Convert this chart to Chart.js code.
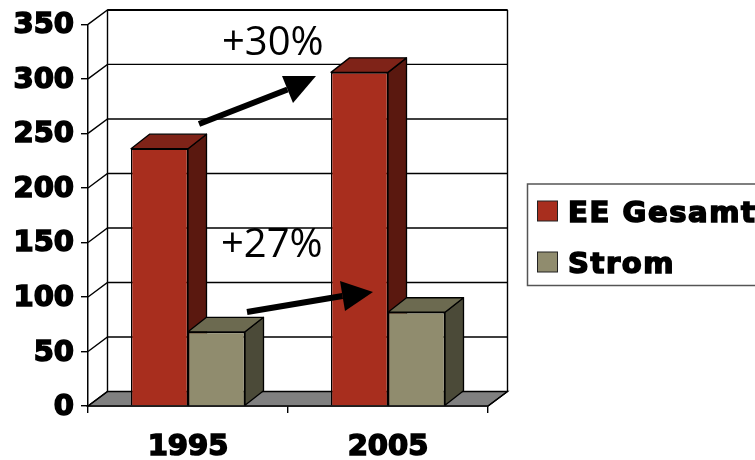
<!DOCTYPE html>
<html lang="de">
<head>
<meta charset="UTF-8">
<title>EE Gesamt und Strom</title>
<script src="https://cdn.jsdelivr.net/npm/chart.js"></script>
<style>
  html, body { margin: 0; padding: 0; background: #fff; overflow: hidden; }
  canvas { display: block; }
</style>
</head>
<body>
<canvas id="chart" width="755" height="460"></canvas>
<script>
// Daten
const years = ['1995', '2005'];
const eeGesamt = [236, 306];
const strom = [68, 86];
const yTicks = [0, 50, 100, 150, 200, 250, 300, 350];

const BOLD = 'bold 29px "DejaVu Sans"';
const THIN = '40px "Open Sans"';

// Tiefe der Rueckwand und der Balken
const wallDx = 19.5, wallDy = -14.5;
const barDx = 18.5, barDy = -14.5;

const colors = [
  { front: '#A82E1E', top: '#7F2318', side: '#5A180F' },
  { front: '#908C6E', top: '#6C6A50', side: '#4B4A38' }
];

function poly(ctx, pts, fill) {
  ctx.beginPath();
  pts.forEach((p, i) => i ? ctx.lineTo(p[0], p[1]) : ctx.moveTo(p[0], p[1]));
  ctx.closePath();
  if (fill) { ctx.fillStyle = fill; ctx.fill(); }
  ctx.stroke();
}

// Rueckwand, Boden und Gitterlinien
const wallPlugin = {
  id: 'wall',
  beforeDatasetsDraw(chart) {
    const { ctx, chartArea: a, scales: { y } } = chart;
    ctx.save();
    ctx.strokeStyle = '#000';
    ctx.lineWidth = 1.4;
    const zero = y.getPixelForValue(0);
    poly(ctx, [[a.left, zero], [a.right, zero], [a.right + wallDx, zero + wallDy], [a.left + wallDx, zero + wallDy]], '#808080');
    yTicks.forEach(v => {
      const py = y.getPixelForValue(v);
      ctx.beginPath();
      ctx.moveTo(a.left, py);
      ctx.lineTo(a.left + wallDx, py + wallDy);
      if (v > 0) ctx.lineTo(a.right + wallDx, py + wallDy);
      ctx.stroke();
    });
    const top = y.getPixelForValue(350) + wallDy;
    ctx.beginPath();
    ctx.moveTo(a.left + wallDx, top);
    ctx.lineTo(a.left + wallDx, zero + wallDy);
    ctx.moveTo(a.right + wallDx, top);
    ctx.lineTo(a.right + wallDx, zero + wallDy);
    ctx.lineTo(a.right, zero);
    ctx.stroke();
    ctx.lineWidth = 2;
    ctx.beginPath();
    ctx.moveTo(a.left + wallDx, top);
    ctx.lineTo(a.right + wallDx, top);
    ctx.stroke();
    ctx.restore();
  }
};

// Seiten- und Deckflaeche der Balken
function drawFaces(chart, meta, c) {
  const { ctx } = chart;
  ctx.save();
  ctx.strokeStyle = '#000';
  ctx.lineWidth = 1.3;
  ctx.lineJoin = 'round';
  meta.data.forEach(bar => {
    const l = bar.x - bar.width / 2, r = bar.x + bar.width / 2;
    poly(ctx, [[r, bar.y], [r + barDx, bar.y + barDy], [r + barDx, bar.base + barDy], [r, bar.base]], c.side);
    poly(ctx, [[l, bar.y], [l + barDx, bar.y + barDy], [r + barDx, bar.y + barDy], [r, bar.y]], c.top);
  });
  ctx.restore();
}

// Chart.js zeichnet den ersten Datensatz zuletzt, Strom muss aber vor EE Gesamt liegen
const depthPlugin = {
  id: 'depth',
  beforeDatasetDraw(chart, args) {
    if (args.index === 1) return false;
    drawFaces(chart, args.meta, colors[0]);
  },
  afterDatasetDraw(chart, args) {
    if (args.index !== 0) return;
    const meta = chart.getDatasetMeta(1);
    drawFaces(chart, meta, colors[1]);
    meta.data.forEach(bar => bar.draw(chart.ctx));
  }
};

function arrow(ctx, tail, tip, headA, headB, width) {
  ctx.save();
  ctx.strokeStyle = '#000';
  ctx.fillStyle = '#000';
  ctx.lineWidth = width;
  ctx.beginPath();
  ctx.moveTo(tail[0], tail[1]);
  ctx.lineTo((headA[0] + headB[0]) / 2, (headA[1] + headB[1]) / 2);
  ctx.stroke();
  ctx.beginPath();
  ctx.moveTo(tip[0], tip[1]);
  ctx.lineTo(headA[0], headA[1]);
  ctx.lineTo(headB[0], headB[1]);
  ctx.closePath();
  ctx.fill();
  ctx.restore();
}

// Pfeile, Prozentangaben und Legende
const notesPlugin = {
  id: 'notes',
  afterDatasetsDraw(chart) {
    const { ctx } = chart;
    arrow(ctx, [199, 124], [316, 76], [282, 76], [293, 103], 6);
    arrow(ctx, [247, 312], [373, 292], [340, 281], [345, 311], 6);
    ctx.save();
    ctx.fillStyle = '#000';
    ctx.font = THIN;
    ctx.textBaseline = 'alphabetic';
    ctx.fillText('+30%', 222, 55);
    ctx.fillText('+27%', 221, 257);

    // Legende
    ctx.fillStyle = '#fff';
    ctx.strokeStyle = '#555';
    ctx.lineWidth = 1.5;
    ctx.fillRect(527.5, 184, 240, 101.5);
    ctx.strokeRect(527.5, 184, 240, 101.5);
    chart.data.datasets.forEach((ds, i) => {
      const top = 201 + i * 51;
      ctx.fillStyle = ds.backgroundColor;
      ctx.strokeStyle = '#222';
      ctx.lineWidth = 1;
      ctx.fillRect(537.5, top, 20, 20);
      ctx.strokeRect(537.5, top, 20, 20);
      ctx.fillStyle = '#000';
      ctx.strokeStyle = '#000';
      ctx.font = BOLD;
      ctx.letterSpacing = '1.6px';
      ctx.lineWidth = 1.6;
      ctx.fillText(ds.label, 568, top + 21);
      ctx.strokeText(ds.label, 568, top + 21);
    });
    ctx.restore();
  }
};

new Chart(document.getElementById('chart'), {
  type: 'bar',
  data: {
    labels: years,
    datasets: [
      { label: 'EE Gesamt', data: eeGesamt, backgroundColor: colors[0].front },
      { label: 'Strom', data: strom, backgroundColor: colors[1].front }
    ]
  },
  options: {
    responsive: false,
    animation: false,
    layout: { padding: { top: 22, right: 267, bottom: 0, left: 0 } },
    datasets: {
      bar: {
        categoryPercentage: 0.57,
        barPercentage: 1,
        borderColor: '#000',
        borderWidth: 1.3
      }
    },
    plugins: { legend: { display: false }, tooltip: { enabled: false } },
    scales: {
      x: {
        afterFit(scale) { scale.height = 54; },
        border: { color: '#000', width: 1.5 },
        grid: { offset: true, drawOnChartArea: false, tickLength: 7, color: '#000', lineWidth: 1.4 },
        ticks: {
          color: '#000',
          font: { family: 'DejaVu Sans', size: 29, weight: 'bold' },
          textStrokeColor: '#000',
          textStrokeWidth: 1.6,
          padding: 17,
          maxRotation: 0
        }
      },
      y: {
        min: 0,
        max: 350,
        afterFit(scale) { scale.width = 88; },
        afterBuildTicks(scale) { scale.ticks = yTicks.map(v => ({ value: v })); },
        border: { color: '#000', width: 1.5 },
        grid: { drawOnChartArea: false, tickLength: 7, color: '#000', lineWidth: 1.4 },
        ticks: {
          color: '#000',
          font: { family: 'DejaVu Sans', size: 29, weight: 'bold' },
          textStrokeColor: '#000',
          textStrokeWidth: 1.6,
          labelOffset: 1.5,
          padding: 7
        }
      }
    }
  },
  plugins: [wallPlugin, depthPlugin, notesPlugin]
});
</script>
</body>
</html>
